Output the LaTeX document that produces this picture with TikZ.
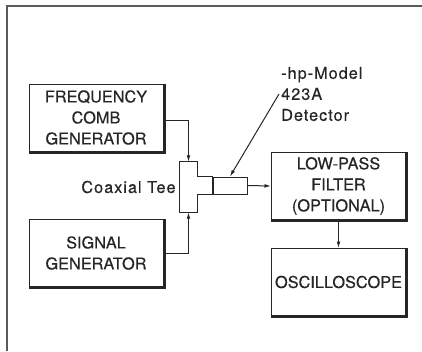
\documentclass[tikz,border=0pt]{standalone}
\usepackage{fontspec}
\setmainfont{TeX Gyre Heros}[FakeBold=0.35]
\usetikzlibrary{arrows.meta, positioning, calc}
\definecolor{inkClr}{HTML}{262626}
\definecolor{frameClr}{HTML}{5A5A5A}
\newcommand{\lbl}{\addfontfeatures{LetterSpace=6}}

\begin{document}
\begin{tikzpicture}[
  x=1pt, y=-1pt,
  font=\fontsize{16.3}{21}\selectfont,
  >={Latex[length=6.5pt, width=3.8pt]},
  unit/.style={draw=inkClr, line width=1pt, fill=white, text=inkClr,
               minimum width=134pt, minimum height=67pt, align=center,
               inner sep=0pt},
  shade/.style={draw=inkClr, line width=2pt},
  flow/.style={->, line width=1pt, draw=inkClr},
  part/.style={draw=inkClr, line width=1pt},
  note/.style={text=inkClr, inner sep=2pt, align=left},
  border/.style={draw=frameClr, line width=1.3pt},
]
\useasboundingbox (0,0) rectangle (422,351);

% ---------- page frame ----------
\draw[border] (7,351) -- (7,6) -- (422,6);

% ---------- instruments ----------
\node[unit] (comb) at (96,117.5) {FREQUENCY\\COMB\\GENERATOR};
\node[unit] (sig)  at (96,253)   {SIGNAL\\GENERATOR};
\node[unit] (lpf)  at (338.5,186) {LOW-PASS\\FILTER\\(OPTIONAL)};
\node[unit] (osc)  at (338.5,282) {OSCILLOSCOPE};

\foreach \b in {comb,sig,lpf,osc}
  \draw[shade] ([xshift=1.2pt]\b.north east) -- ([xshift=1.2pt,yshift=-1.2pt]\b.south east)
    -- ([yshift=-1.2pt]\b.south west);

% ---------- tee and detector ----------
\node[minimum width=17pt, minimum height=50pt, inner sep=0pt] (tee) at (188.5,187) {};
\node[part, minimum width=34pt, minimum height=17pt, inner sep=0pt] (det) at (230,185.5) {};
\draw[part] (tee.north west) -- (tee.north east) -- (tee.east |- det.north)
  -- (det.north west) -- (det.south west) -- (tee.east |- det.south)
  -- (tee.south east) -- (tee.south west) -- cycle;

% ---------- labels ----------
\node[note, anchor=east] (teelbl) at ([xshift=-2pt]tee.west) {\lbl Coaxial Tee};
\node[note, anchor=west] (hp) at (279,94) {\lbl -hp-Model\\\lbl 423A\\\lbl Detector};

% ---------- signal flow ----------
\draw[flow] ([yshift=-2.5pt]comb.east) -| (tee.north);
\draw[flow] (sig.east) -| (tee.south);
\draw[flow] (det.east) -- (lpf.west);
\draw[flow] (lpf.south) -- (osc.north);
\draw[flow] (hp.west) -- (det.north);

\end{tikzpicture}
\end{document}
